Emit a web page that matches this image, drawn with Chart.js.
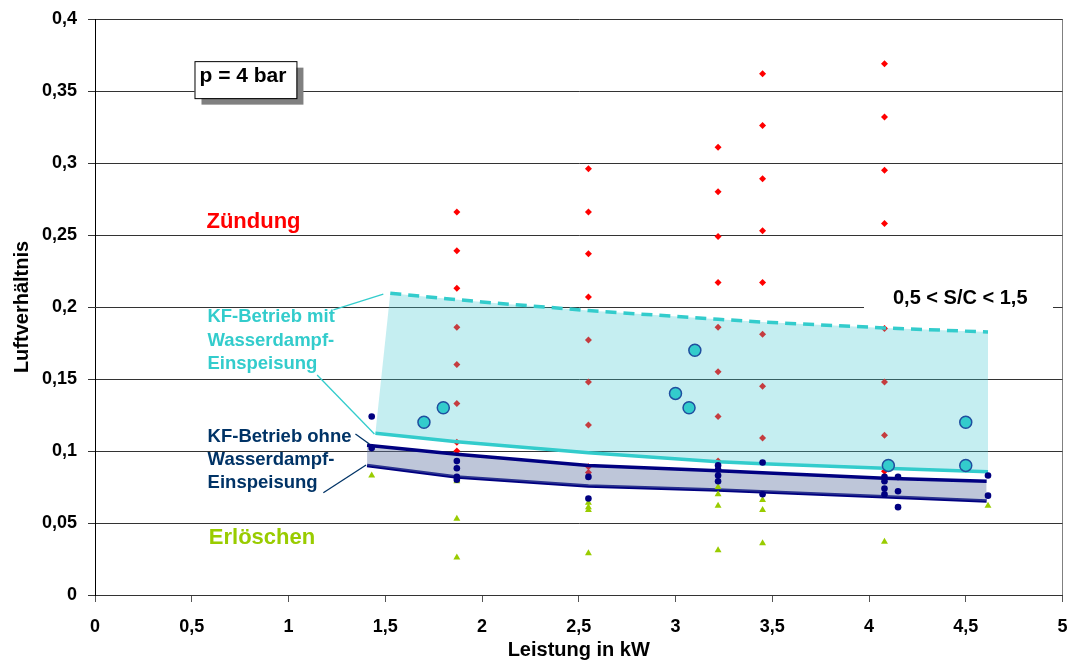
<!DOCTYPE html>
<html>
<head>
<meta charset="utf-8">
<script src="https://cdn.jsdelivr.net/npm/chart.js@4.4.1/dist/chart.umd.min.js"></script>
<style>
  body { margin: 0; background: #fff; }
  #wrap { width: 1070px; height: 662px; position: relative; }
</style>
</head>
<body>
<div id="wrap"><canvas id="chart"></canvas></div>
<script>
/*
* Luftverhältnis over Leistung at p = 4 bar: ignition / extinction points,
* KF operating bands with and without steam feed.
*/

// axis tick labels (German decimal comma)
const xTickLabels = ['0', '0,5', '1', '1,5', '2', '2,5', '3', '3,5', '4', '4,5', '5'];
const yTickLabels = ['0', '0,05', '0,1', '0,15', '0,2', '0,25', '0,3', '0,35', '0,4'];

// Zündung (red diamonds), grouped by load
const zuendLoads = [1.87, 2.55, 3.22, 3.45, 4.08];
const zuendValues = [
   [0.266, 0.239, 0.213, 0.186, 0.160, 0.133, 0.106, 0.100],
   [0.296, 0.266, 0.237, 0.207, 0.177, 0.148, 0.118, 0.089, 0.085],
   [0.311, 0.280, 0.249, 0.217, 0.186, 0.155, 0.124, 0.093],
   [0.362, 0.326, 0.289, 0.253, 0.217, 0.181, 0.145, 0.109],
   [0.369, 0.332, 0.295, 0.258, 0.185, 0.148, 0.111, 0.086]
];

// stable operation points (navy dots)
const stableLoads = [1.43, 1.87, 2.55, 3.22, 3.45, 4.08, 4.15, 4.615];
const stableValues = [
   [0.124, 0.102],
   [0.093, 0.088, 0.082, 0.080],
   [0.082, 0.067],
   [0.090, 0.087, 0.083, 0.079],
   [0.092, 0.070],
   [0.082, 0.079, 0.074, 0.070],
   [0.082, 0.072, 0.061],
   [0.083, 0.069]
];

// Erlöschen (green triangles)
const erlLoads = [1.43, 1.87, 2.55, 3.22, 3.45, 4.08, 4.615];
const erlValues = [
   [0.083],
   [0.079, 0.053, 0.026],
   [0.064, 0.061, 0.059, 0.029],
   [0.075, 0.070, 0.062, 0.031],
   [0.066, 0.059, 0.036],
   [0.037],
   [0.062]
];

// KF-Betrieb mit Wasserdampf (big cyan circles)
const kfX = [1.70, 1.80, 3.00, 3.07, 3.10, 4.10, 4.50, 4.50];
const kfY = [0.120, 0.130, 0.140, 0.130, 0.170, 0.090, 0.120, 0.090];

// band with steam feed: upper (dashed) and lower boundary
const steamUpX = [1.526, 2.0, 2.55, 3.22, 3.45, 4.08, 4.615];
const steamUpY = [0.2095, 0.2035, 0.1975, 0.1915, 0.1895, 0.1855, 0.1826];
const steamLowX = [1.449, 1.87, 2.55, 3.22, 3.45, 4.08, 4.615];
const steamLowY = [0.1123, 0.1065, 0.0988, 0.0926, 0.0912, 0.0880, 0.0856];

// band without steam feed
const dryUpX = [1.406, 1.87, 2.55, 3.22, 4.08, 4.608];
const dryUpY = [0.1040, 0.0977, 0.0900, 0.0863, 0.0810, 0.0790];
const dryLowX = [1.406, 1.87, 2.55, 3.22, 4.08, 4.608];
const dryLowY = [0.0900, 0.0820, 0.0757, 0.0729, 0.0683, 0.0653];

// leader lines from the labels to the bands
const leaderX = [[1.232, 1.490], [1.148, 1.444], [1.346, 1.418], [1.180, 1.401]];
const leaderY = [[0.198, 0.209], [0.1528, 0.1118], [0.1118, 0.1049], [0.0710, 0.0903]];

const FONT = "'Liberation Sans', Arial, Helvetica, sans-serif";
Chart.defaults.font.family = FONT;

function groupPoints(loads, values) {
   return loads.flatMap((x, i) => values[i].map(y => ({x: x, y: y})));
}

function zipPoints(xs, ys) {
   return xs.map((x, i) => ({x: x, y: ys[i]}));
}

// fill boundary for the steam band: lower-left corner then the dashed edge
const steamFillEdge = [{x: steamLowX[0], y: steamLowY[0]}].concat(zipPoints(steamUpX, steamUpY));

function lineSet(data, color, width, extra) {
   return Object.assign({
      data: data,
      showLine: true,
      borderColor: color,
      borderWidth: width,
      pointRadius: 0,
      tension: 0,
      fill: false,
      order: 5
   }, extra || {});
}

const datasets = [
   {
      data: groupPoints(zuendLoads, zuendValues),
      pointStyle: 'rectRot', pointRadius: 3.5,
      backgroundColor: '#FF0000', borderColor: '#FF0000', borderWidth: 0,
      order: 10
   },
   lineSet(steamFillEdge, 'rgba(0,0,0,0)', 0,
      {fill: 2, backgroundColor: 'rgba(64,200,210,0.30)', order: 7}),
   lineSet(zipPoints(steamLowX, steamLowY), '#33CCCC', 3.5),
   lineSet(zipPoints(steamUpX, steamUpY), '#33CCCC', 3.5, {borderDash: [11, 7]}),
   lineSet(zipPoints(dryUpX, dryUpY), '#000080', 3.5,
      {fill: 5, backgroundColor: 'rgba(100,120,165,0.42)', order: 6}),
   lineSet(zipPoints(dryLowX, dryLowY), '#000080', 3.5, {order: 6}),
   {
      data: groupPoints(stableLoads, stableValues),
      pointStyle: 'circle', pointRadius: 3.3,
      backgroundColor: '#000080', borderColor: '#000080', borderWidth: 0,
      order: 2
   },
   {
      data: groupPoints(erlLoads, erlValues),
      pointStyle: 'triangle', pointRadius: 4,
      backgroundColor: '#99CC00', borderColor: '#99CC00', borderWidth: 0,
      order: 2
   },
   {
      data: zipPoints(kfX, kfY),
      pointStyle: 'circle', pointRadius: 6,
      backgroundColor: '#33CCCC', borderColor: '#1F4F9F', borderWidth: 1.5,
      order: 1
   }
];

leaderX.forEach((xs, i) => {
   const color = i < 2 ? '#33CCCC' : '#003366';
   datasets.push(lineSet(zipPoints(xs, leaderY[i]), color, 1.3, {order: 3}));
});

// text annotations, placed in data units
const notes = [
   {text: 'Zündung', x: 0.576, y: 0.2549, color: '#FF0000', size: 22},
   {text: 'Erlöschen', x: 0.588, y: 0.0352, color: '#99CC00', size: 22},
   {text: 'KF-Betrieb mit', x: 0.581, y: 0.1896, color: '#33CCCC', size: 18.5},
   {text: 'Wasserdampf-', x: 0.581, y: 0.1726, color: '#33CCCC', size: 18.5},
   {text: 'Einspeisung', x: 0.581, y: 0.1566, color: '#33CCCC', size: 18.5},
   {text: 'KF-Betrieb ohne', x: 0.582, y: 0.1065, color: '#003366', size: 18.5},
   {text: 'Wasserdampf-', x: 0.582, y: 0.0903, color: '#003366', size: 18.5},
   {text: 'Einspeisung', x: 0.582, y: 0.0740, color: '#003366', size: 18.5},
   {text: '0,5 < S/C < 1,5', x: 4.124, y: 0.2019, color: '#000', size: 20},
   {text: 'p = 4 bar', x: 0.540, y: 0.3565, color: '#000', size: 21}
];

const notesPlugin = {
   id: 'notes',
   beforeDatasetsDraw(chart) {
      // white patch behind the S/C label, hides the grid line there
      const {ctx, scales: {x, y}} = chart;
      const n = notes[8];
      const px = x.getPixelForValue(n.x);
      const py = y.getPixelForValue(n.y);
      ctx.save();
      ctx.fillStyle = '#fff';
      ctx.fillRect(px - 29, py - 20, 189, 32);
      ctx.restore();
   },
   afterDatasetsDraw(chart) {
      const {ctx, scales: {x, y}} = chart;
      ctx.save();
      ctx.textBaseline = 'alphabetic';
      ctx.textAlign = 'left';
      notes.forEach((n, i) => {
         const px = x.getPixelForValue(n.x);
         const py = y.getPixelForValue(n.y);
         ctx.font = 'bold ' + n.size + 'px ' + FONT;
         if (i === notes.length - 1) {
            const w = ctx.measureText(n.text).width;
            ctx.fillStyle = '#808080';
            ctx.fillRect(px + 2, py - 14, w + 15, 37);
            ctx.fillStyle = '#fff';
            ctx.fillRect(px - 5, py - 20.5, w + 15, 37);
            ctx.strokeStyle = '#000';
            ctx.lineWidth = 1;
            ctx.strokeRect(px - 5 + 0.5, py - 20.5 + 0.5, w + 15, 37);
         }
         ctx.fillStyle = n.color;
         ctx.fillText(n.text, px, py);
      });
      ctx.restore();
   }
};

new Chart(document.getElementById('chart'), {
   type: 'scatter',
   data: {datasets: datasets},
   options: {
      responsive: true,
      maintainAspectRatio: false,
      animation: false,
      layout: {padding: {top: 19, right: 7, left: 0, bottom: 0}},
      plugins: {
         legend: {display: false},
         tooltip: {enabled: false}
      },
      scales: {
         x: {
            type: 'linear',
            min: 0,
            max: 5,
            afterFit: scale => {
               scale.height = 67;
               scale.paddingLeft = 0;
               scale.paddingRight = 0;
            },
            ticks: {
               stepSize: 0.5,
               padding: 14,
               color: '#000',
               font: {size: 18, weight: 'bold'},
               callback: (v, i) => xTickLabels[i]
            },
            grid: {
               drawOnChartArea: true,
               color: c => (c.tick && c.tick.value === 5) ? '#808080' : 'rgba(0,0,0,0)',
               tickColor: '#555',
               tickLength: 7
            },
            border: {display: true, color: '#333', width: 1},
            title: {
               display: true,
               text: 'Leistung in kW',
               color: '#000',
               font: {size: 20, weight: 'bold'},
               padding: {top: 0, bottom: 0}
            }
         },
         y: {
            type: 'linear',
            min: 0,
            max: 0.4,
            afterFit: scale => {
               scale.width = 95;
               scale.paddingTop = 0;
               scale.paddingBottom = 0;
            },
            ticks: {
               stepSize: 0.05,
               padding: 11,
               color: '#000',
               font: {size: 18, weight: 'bold'},
               callback: (v, i) => yTickLabels[i]
            },
            grid: {
               color: '#333',
               tickColor: '#333',
               tickLength: 7
            },
            border: {display: true, color: '#000', width: 1},
            title: {
               display: true,
               text: 'Luftverhältnis',
               color: '#000',
               font: {size: 20, weight: 'bold'},
               padding: {top: 10, bottom: 0}
            }
         }
      }
   },
   plugins: [notesPlugin]
});
</script>
</body>
</html>
